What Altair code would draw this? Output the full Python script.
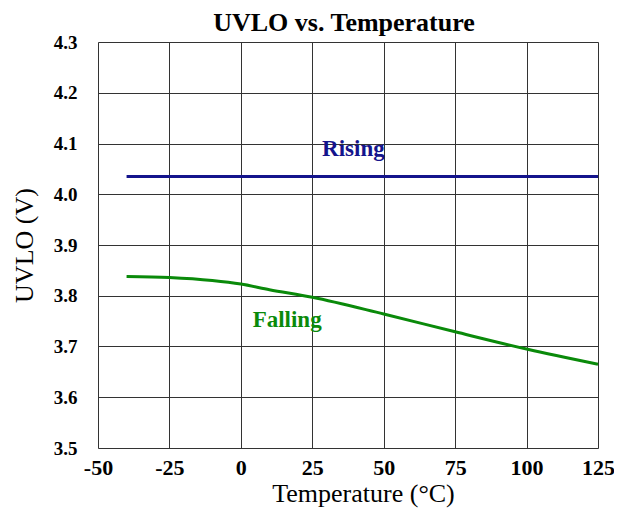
import altair as alt
import pandas as pd

# Data
rising_temp = [-40, 125]
rising_v = [4.035, 4.035]

falling_temp = [-40, -25, -10, 0, 10, 25, 50, 75, 100, 125]
falling_v = [3.838, 3.836, 3.830, 3.823, 3.812, 3.797, 3.764, 3.729, 3.695, 3.665]

x_ticks = [-50, -25, 0, 25, 50, 75, 100, 125]
y_ticks = [3.5, 3.6, 3.7, 3.8, 3.9, 4.0, 4.1, 4.2, 4.3]

series_names = ["Rising", "Falling"]
series_colors = ["#14148c", "#0a8a0a"]
label_temp = [39.4, 16.2]
label_v = [4.075, 3.738]

title_text = ["UVLO vs. Temperature"]

rows = [{"T": t, "V": v, "S": "Rising"} for t, v in zip(rising_temp, rising_v)]
rows += [{"T": t, "V": v, "S": "Falling"} for t, v in zip(falling_temp, falling_v)]
df = pd.DataFrame(rows)
lab = pd.DataFrame({"T": label_temp, "V": label_v, "S": series_names})
tdf = pd.DataFrame({"t": title_text})

FONT = "Liberation Serif"

xs = alt.Scale(domain=[-50, 125], nice=False, zero=False)
ys = alt.Scale(domain=[3.5, 4.3], nice=False, zero=False)
col = alt.Scale(domain=series_names, range=series_colors)

x_axis = alt.Axis(values=x_ticks, title="Temperature (°C)", labelExpr="datum.value",
                  labelFont=FONT, labelFontSize=22, labelFontWeight="bold", labelColor="black",
                  labelPadding=9, tickSize=0, domain=False,
                  grid=True, gridColor="#333333", gridWidth=1,
                  titleFont=FONT, titleFontSize=26, titleFontWeight="normal", titleColor="black",
                  titleX=265, titleY=53, titleBaseline="alphabetic", titleAlign="center",
                  labelFlush=False)
y_axis = alt.Axis(values=y_ticks, title="UVLO (V)", format=".1f",
                  labelFont=FONT, labelFontSize=19, labelFontWeight="bold", labelColor="black",
                  labelPadding=21, tickSize=0, domain=False,
                  grid=True, gridColor="#333333", gridWidth=1,
                  titleFont=FONT, titleFontSize=26, titleFontWeight="normal", titleColor="black",
                  titlePadding=16, labelFlush=False)

lines = alt.Chart(df).mark_line(strokeWidth=3, interpolate="monotone").encode(
    x=alt.X("T:Q", scale=xs, axis=x_axis),
    y=alt.Y("V:Q", scale=ys, axis=y_axis),
    color=alt.Color("S:N", scale=col, legend=None),
    detail="S:N",
)

labels = alt.Chart(lab).mark_text(font=FONT, fontSize=23, fontWeight="bold", align="center",
                                  baseline="alphabetic").encode(
    x=alt.X("T:Q", scale=xs),
    y=alt.Y("V:Q", scale=ys),
    text="S:N",
    color=alt.Color("S:N", scale=col, legend=None),
)

title = alt.Chart(tdf).mark_text(font=FONT, fontSize=26, fontWeight="bold", align="center",
                                 baseline="alphabetic", color="black").encode(
    x=alt.value(246), y=alt.value(-11), text="t:N"
)

chart = alt.layer(lines, labels, title).properties(
    width=500, height=406,
    autosize=alt.AutoSizeParams(type="none"),
    padding={"left": 90, "top": 34, "right": 16, "bottom": 60},
).configure_view(stroke="black", strokeWidth=2.5).configure(background="white")

chart.save("out.html", embed_options={"renderer": "svg", "actions": False})
